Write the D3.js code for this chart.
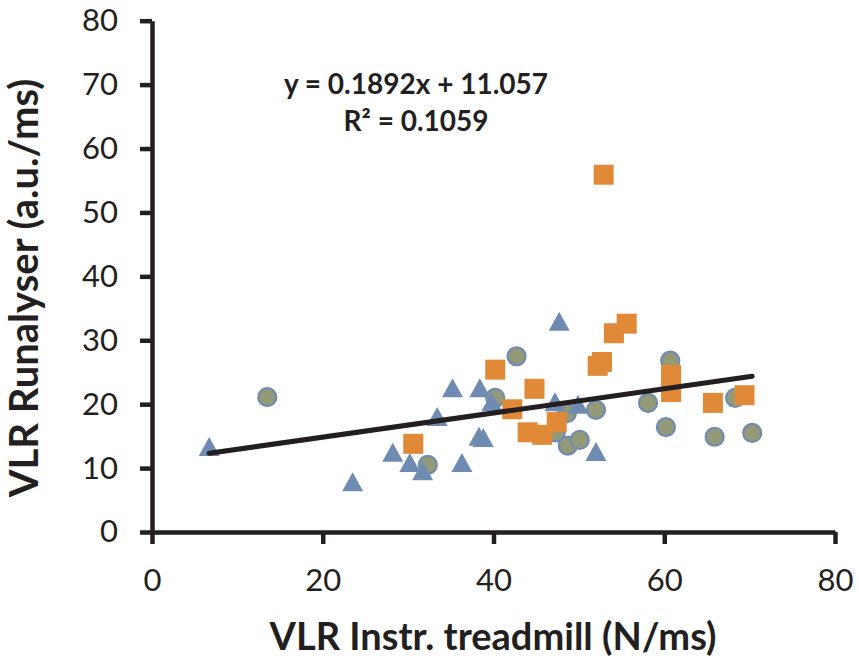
<!DOCTYPE html>
<html>
<head>
<meta charset="utf-8">
<script src="https://cdn.jsdelivr.net/npm/d3@7"></script>
<style>
  body { margin: 0; background: #fff; }
  svg { display: block; font-family: Lato, "Open Sans", sans-serif; }
</style>
</head>
<body>
<div id="chart"></div>
<script>
// circles (olive fill, blue edge)
let circleX = [13.5, 32.3, 40.2, 42.7, 47.3, 48.6, 48.7, 50.1, 52.0, 58.1, 60.2, 60.7, 65.9, 68.3, 70.3];
let circleY = [21.1, 10.5, 21.0, 27.5, 15.6, 18.6, 13.5, 14.4, 19.1, 20.2, 16.4, 26.8, 14.9, 21.0, 15.5];
// triangles (blue)
let triX = [6.7, 23.5, 28.2, 30.2, 31.7, 33.4, 35.2, 36.3, 38.4, 38.3, 38.8, 39.8, 47.2, 47.7, 49.9, 52.0];
let triY = [13.3, 7.8, 12.4, 10.8, 9.5, 18.0, 22.5, 10.8, 22.5, 14.9, 14.7, 20.3, 20.3, 32.9, 19.9, 12.5];
// squares (orange)
let sqX = [30.6, 40.2, 42.2, 44.8, 44.0, 45.7, 47.4, 52.9, 55.6, 54.1, 52.7, 52.2, 60.8, 60.8, 65.7, 69.4];
let sqY = [13.8, 25.4, 19.2, 22.4, 15.6, 15.2, 17.2, 55.9, 32.6, 31.1, 26.6, 26.0, 24.6, 21.9, 20.2, 21.4];

let xTicks = [0, 20, 40, 60, 80];
let yTicks = [0, 10, 20, 30, 40, 50, 60, 70, 80];
let slope = 0.1892, intercept = 11.057;
let eqText = 'y = 0.1892x + 11.057';
let r2Text = 'R² = 0.1059';

let svgAttr = {width: 859, height: 660};
let plot = {left: 152, right: 835, top: 20.7, bottom: 532};

let svg = d3.select('#chart').append('svg').attr('width', svgAttr.width).attr('height', svgAttr.height);

let xScale = d3.scaleLinear().domain([0, 80]).range([plot.left, plot.right]);
let yScale = d3.scaleLinear().domain([0, 80]).range([plot.bottom, plot.top]);

// axes
let xAxis = d3.axisBottom(xScale).tickValues(xTicks).tickSize(12).tickSizeOuter(0).tickPadding(25);
let yAxis = d3.axisLeft(yScale).tickValues(yTicks).tickSize(12).tickSizeOuter(0).tickPadding(22);

let gx = svg.append('g').attr('transform', 'translate(0,' + plot.bottom + ')').call(xAxis);
let gy = svg.append('g').attr('transform', 'translate(' + plot.left + ',0)').call(yAxis);

[gx, gy].forEach(function (g) {
    g.select('.domain').attr('stroke', '#231f20').attr('stroke-width', 4.5);
    g.selectAll('.tick line').attr('stroke', '#231f20').attr('stroke-width', 4.5);
    g.selectAll('.tick text').attr('fill', '#231f20').attr('font-size', '31px')
        .attr('font-family', 'Lato, sans-serif');
});
gx.selectAll('.tick text').attr('dy', '0.71em');

// axis titles
svg.append('text').attr('x', 493).attr('y', 650).attr('text-anchor', 'middle')
    .attr('font-size', '38px').attr('font-weight', 'bold').attr('fill', '#231f20')
    .text('VLR Instr. treadmill (N/ms)');
svg.append('text').attr('transform', 'translate(38,288) rotate(-90)').attr('text-anchor', 'middle')
    .attr('font-size', '40px').attr('font-weight', 'bold').attr('fill', '#231f20')
    .text('VLR Runalyser (a.u./ms)');

// circles
svg.append('g').selectAll('circle').data(circleX).enter().append('circle')
    .attr('cx', function (d) { return xScale(d); })
    .attr('cy', function (d, i) { return yScale(circleY[i]); })
    .attr('r', 9)
    .attr('fill', '#949a77').attr('stroke', '#6f8bb2').attr('stroke-width', 2.2);

// triangles
svg.append('g').selectAll('path').data(triX).enter().append('path')
    .attr('d', 'M0,-10L10.5,9L-10.5,9Z')
    .attr('transform', function (d, i) { return 'translate(' + xScale(d) + ',' + yScale(triY[i]) + ')'; })
    .attr('fill', '#6f8bb2');

// squares
svg.append('g').selectAll('rect').data(sqX).enter().append('rect')
    .attr('x', function (d) { return xScale(d) - 10; })
    .attr('y', function (d, i) { return yScale(sqY[i]) - 10; })
    .attr('width', 20).attr('height', 20)
    .attr('fill', '#e08a37');

// linear trendline over the data range
let allX = circleX.concat(triX, sqX);
let ext = d3.extent(allX);
svg.append('line')
    .attr('x1', xScale(ext[0])).attr('y1', yScale(slope * ext[0] + intercept))
    .attr('x2', xScale(ext[1])).attr('y2', yScale(slope * ext[1] + intercept))
    .attr('stroke', '#231f20').attr('stroke-width', 5).attr('stroke-linecap', 'round');

// equation label
svg.append('text').attr('x', 416).attr('y', 94).attr('text-anchor', 'middle')
    .attr('font-size', '28px').attr('font-weight', 'bold').attr('fill', '#231f20').text(eqText);
svg.append('text').attr('x', 416).attr('y', 131).attr('text-anchor', 'middle')
    .attr('font-size', '28px').attr('font-weight', 'bold').attr('fill', '#231f20').text(r2Text);
</script>
</body>
</html>
